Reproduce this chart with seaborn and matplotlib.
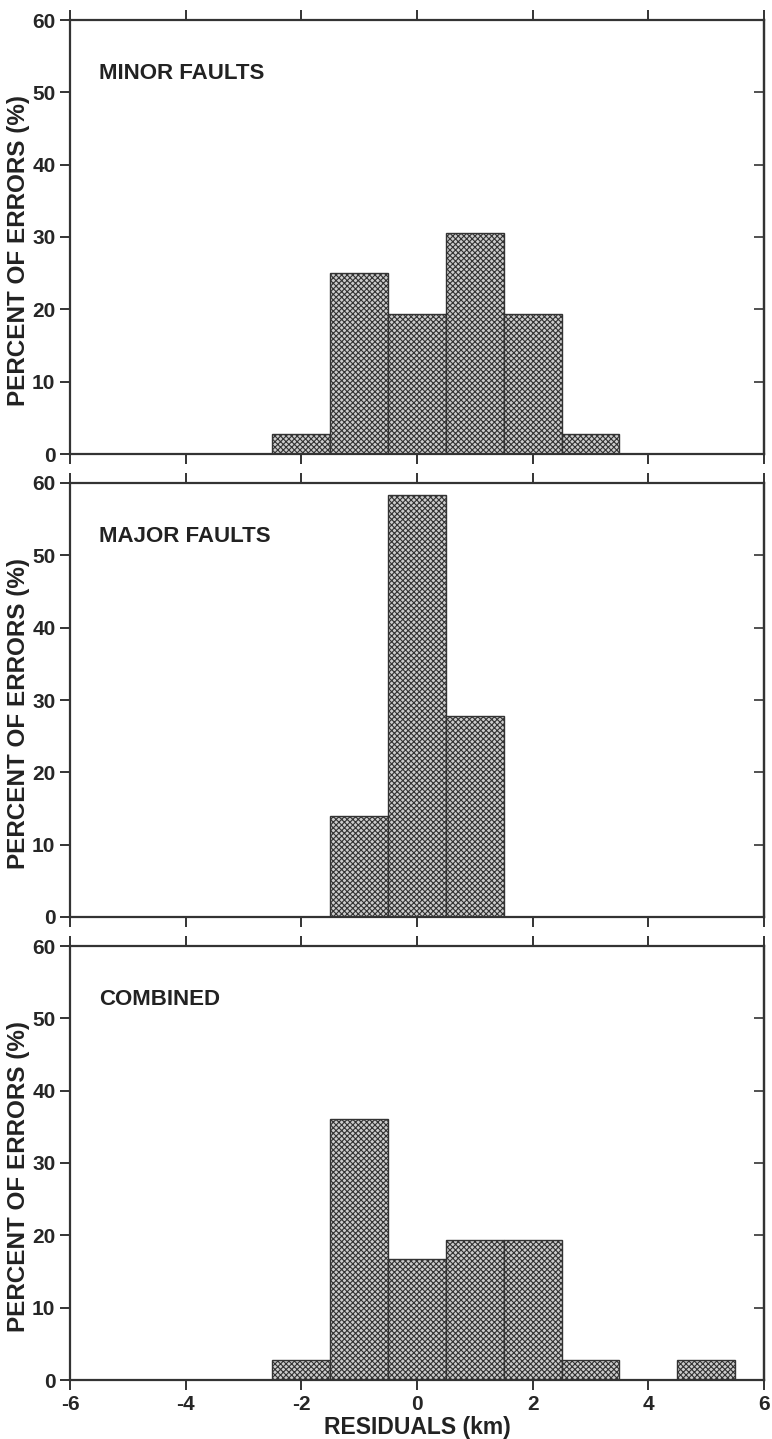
import numpy as np
import pandas as pd
import seaborn as sns
import matplotlib.pyplot as plt

# residual bins (km) and percent of errors per panel
bin_centers = [-2, -1, 0, 1, 2, 3, 4, 5]
minor_pct = [2.8, 25.0, 19.4, 30.6, 19.4, 2.8, 0.0, 0.0]
major_pct = [0.0, 13.9, 58.3, 27.8, 0.0, 0.0, 0.0, 0.0]
combined_pct = [2.8, 36.1, 16.7, 19.4, 19.4, 2.8, 0.0, 2.8]

panel_titles = ["MINOR FAULTS", "MAJOR FAULTS", "COMBINED"]
panel_values = [minor_pct, major_pct, combined_pct]

x_ticks = [-6, -4, -2, 0, 2, 4, 6]
y_ticks = [0, 10, 20, 30, 40, 50, 60]

sns.set_style("ticks")
plt.rcParams['font.family'] = ['Liberation Sans', 'DejaVu Sans']
plt.rcParams['font.weight'] = 'bold'
plt.rcParams['hatch.linewidth'] = 0.8

fig = plt.figure(figsize=(7.72, 14.39), dpi=100)

# axes rectangles taken from the reference layout
left, width = 70 / 772, 694 / 772
tops = [20, 483, 946]
height_px = 434

for i, (title, vals) in enumerate(zip(panel_titles, panel_values)):
    bottom = 1 - (tops[i] + height_px) / 1439
    ax = fig.add_axes([left, bottom, width, height_px / 1439])
    df = pd.DataFrame({"residual": bin_centers, "pct": vals})
    df = df[df["pct"] > 0]
    sns.histplot(data=df, x="residual", weights="pct", discrete=True,
                 stat="count", color="#cccccc", edgecolor="#333333",
                 linewidth=1.0, hatch="xxxxxx", alpha=1, ax=ax)
    ax.set_xlim(-6, 6)
    ax.set_ylim(0, 60)
    ax.set_xticks(x_ticks)
    ax.set_yticks(y_ticks)
    for s in ax.spines.values():
        s.set_visible(True)
        s.set_linewidth(1.6)
        s.set_color("#333333")
    ax.tick_params(axis="x", which="both", top=True, bottom=True,
                   direction="out", length=7, width=1.4, color="#333333",
                   labelsize=15)
    ax.tick_params(axis="y", direction="out", length=7, width=1.4,
                   color="#333333", labelsize=15)
    sec = ax.secondary_yaxis("right")
    sec.set_yticks([10, 20, 30, 40, 50])
    sec.tick_params(direction="in", length=7, width=1.2, color="#333333",
                    labelright=False)
    sec.spines["right"].set_linewidth(1.6)
    sec.spines["right"].set_color("#333333")

    ax.set_ylabel("PERCENT OF ERRORS (%)", fontsize=17.5, fontweight="bold",
                  color="#222222")
    ax.yaxis.set_label_coords(-0.057, 0.47)
    if i < 2:
        ax.tick_params(axis="x", labelbottom=False)
        ax.set_xlabel("")
    else:
        ax.set_xlabel("RESIDUALS (km)", fontsize=16.5, fontweight="bold",
                      labelpad=2, color="#222222")
        ax.set_xticklabels([str(t) for t in x_ticks])
    ax.text(-5.5, 51.8, title, fontsize=16, fontweight="bold",
            va="baseline", ha="left", color="#222222")

fig.savefig("out.png", dpi=100)
